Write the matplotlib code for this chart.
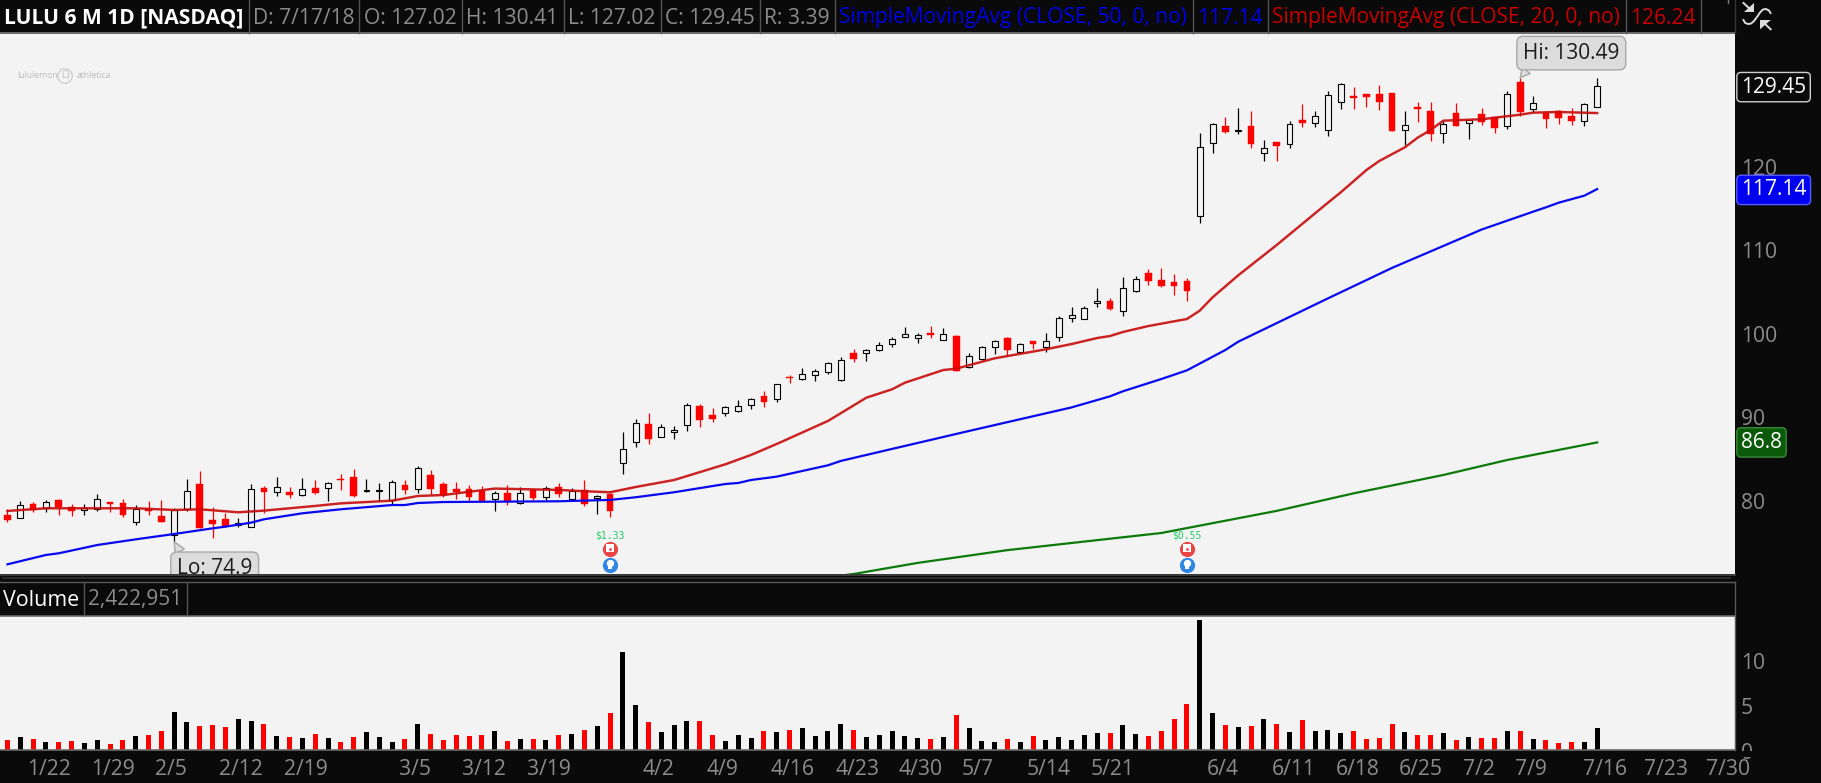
import matplotlib
matplotlib.use('Agg')
import matplotlib.pyplot as plt
import numpy as np
from matplotlib.patches import Rectangle, Polygon
from matplotlib.transforms import ScaledTranslation

plt.rcParams['font.family'] = ['Open Sans', 'DejaVu Sans']

W, H = 1821, 783
BG = '#0a0a0a'
PANEL = '#f3f3f3'
GRAY = '#8c8c8c'
UP = '#000000'
DOWN = '#ff0000'

opens = [78.11, 77.71, 79.42, 78.91, 79.86, 79.07, 78.67, 78.79, 79.66, 79.50,
         77.23, 78.79, 77.99, 75.71, 78.79, 81.82, 77.51, 77.63, 76.91, 76.63,
         81.34, 80.82, 80.86, 80.54, 81.34, 81.30, 82.42, 82.66, 81.02, 81.02,
         79.86, 81.70, 81.18, 82.90, 81.82, 81.22, 81.22, 80.99, 79.99, 80.75,
         79.51, 81.07, 80.23, 81.46, 79.99, 81.11, 80.19, 80.67, 84.30, 86.81,
         89.01, 87.41, 88.01, 88.85, 91.17, 90.09, 90.37, 90.61, 91.25, 92.36,
         91.96, 94.64, 94.36, 94.92, 95.28, 94.24, 97.47, 97.55, 97.91, 98.54,
         99.46, 99.34, 99.90, 99.02, 99.54, 95.79, 96.83, 98.19, 99.30, 97.67,
         98.94, 98.19, 99.38, 101.66, 101.54, 103.45, 103.73, 102.50, 104.97, 107.05,
         106.25, 106.01, 106.13, 113.87, 122.62, 124.69, 124.13, 124.69, 121.42, 122.78,
         122.50, 125.41, 125.01, 124.17, 127.53, 128.29, 128.53, 128.53, 128.65, 124.17,
         126.97, 126.49, 123.81, 126.21, 125.01, 126.13, 125.77, 124.65, 129.96, 126.77,
         126.21, 126.49, 125.89, 125.25, 127.02]
closes = [77.55, 79.34, 78.71, 79.70, 79.11, 78.63, 78.99, 79.98, 79.42, 78.15,
          78.79, 78.63, 77.31, 78.67, 80.94, 76.55, 77.03, 76.83, 77.19, 81.18,
          80.90, 81.42, 80.46, 81.18, 80.74, 81.90, 82.34, 80.38, 81.10, 81.10,
          82.02, 81.10, 83.70, 81.26, 80.46, 80.83, 80.31, 79.71, 80.71, 79.71,
          80.71, 80.19, 81.38, 80.67, 81.03, 79.47, 80.35, 78.63, 85.98, 89.09,
          87.25, 88.61, 88.25, 91.25, 89.53, 89.61, 91.01, 91.13, 91.96, 91.68,
          93.76, 94.52, 94.96, 95.32, 96.27, 96.63, 96.83, 97.83, 98.43, 99.14,
          99.74, 99.62, 99.70, 99.82, 95.39, 97.11, 98.22, 98.90, 97.91, 98.54,
          98.62, 98.90, 101.66, 102.02, 102.86, 103.69, 102.82, 105.25, 106.33, 106.17,
          105.57, 105.57, 104.97, 122.14, 124.89, 124.01, 124.21, 122.58, 122.02, 122.34,
          124.89, 125.09, 125.85, 128.37, 129.68, 128.09, 128.21, 127.61, 124.13, 124.77,
          126.77, 123.77, 124.89, 124.73, 125.37, 125.17, 124.49, 128.49, 126.41, 127.41,
          125.57, 125.69, 125.29, 127.29, 129.45]
highs = [78.79, 79.74, 79.66, 79.86, 80.02, 79.42, 79.42, 80.62, 79.70, 80.02,
         79.30, 79.78, 79.90, 78.95, 82.42, 83.38, 79.03, 78.39, 77.75, 81.82,
         81.58, 82.66, 81.46, 82.54, 82.30, 82.06, 83.02, 83.62, 82.42, 81.90,
         82.30, 82.30, 83.98, 83.50, 82.06, 82.06, 81.66, 81.58, 81.03, 81.66,
         81.42, 81.11, 81.54, 81.98, 81.35, 82.30, 80.47, 80.71, 88.05, 89.61,
         90.33, 89.01, 88.77, 91.49, 91.41, 90.93, 91.17, 91.88, 92.12, 92.96,
         93.80, 94.88, 95.68, 95.56, 96.43, 96.99, 97.95, 97.99, 98.79, 99.42,
         100.62, 99.86, 100.74, 100.46, 99.66, 97.47, 98.34, 99.06, 99.42, 98.66,
         98.94, 99.86, 101.90, 103.02, 103.10, 105.29, 104.09, 106.61, 106.73, 107.57,
         107.69, 106.97, 106.49, 123.85, 125.01, 125.77, 126.85, 126.49, 123.02, 122.78,
         125.25, 127.33, 126.49, 128.88, 129.80, 129.36, 128.53, 129.60, 128.65, 126.49,
         127.57, 127.57, 125.29, 127.45, 125.45, 126.85, 125.77, 128.88, 130.49, 128.29,
         126.49, 126.61, 126.85, 127.45, 130.41]
lows = [77.27, 77.71, 78.51, 78.51, 78.11, 78.03, 78.15, 78.63, 78.51, 77.87,
        76.91, 78.11, 77.31, 74.90, 78.63, 76.55, 75.39, 76.71, 76.67, 76.63,
        78.39, 80.38, 80.18, 80.42, 80.62, 79.78, 81.10, 80.26, 80.86, 79.82,
        79.30, 80.62, 80.78, 80.50, 80.30, 80.03, 79.79, 79.67, 78.63, 79.35,
        79.47, 79.91, 79.91, 80.31, 79.91, 79.19, 78.27, 77.87, 83.06, 86.30,
        86.61, 87.41, 87.25, 88.21, 88.65, 89.25, 89.97, 90.49, 90.81, 91.05,
        91.64, 93.92, 94.28, 94.16, 95.00, 94.20, 96.43, 96.59, 97.75, 98.27,
        99.42, 98.74, 99.34, 99.02, 95.35, 95.75, 96.67, 97.39, 97.15, 97.47,
        97.99, 97.63, 98.98, 101.26, 101.54, 103.06, 102.66, 101.94, 104.85, 105.65,
        105.41, 104.45, 103.73, 113.12, 121.50, 123.89, 123.73, 122.10, 120.54, 120.50,
        122.10, 124.57, 124.61, 123.50, 126.73, 126.73, 126.97, 126.61, 124.13, 122.42,
        125.17, 122.94, 122.66, 124.69, 123.14, 124.81, 123.85, 124.37, 125.89, 126.33,
        124.45, 124.93, 124.81, 124.69, 127.02]
volumes = [1.04, 1.37, 1.15, 0.81, 0.81, 0.93, 0.70, 1.04, 0.59, 1.04,
           1.48, 1.59, 2.04, 4.15, 3.04, 2.59, 2.70, 2.48, 3.37, 3.15,
           2.81, 1.48, 1.37, 1.26, 1.70, 1.26, 0.81, 1.37, 1.93, 1.37,
           0.81, 1.15, 2.81, 1.70, 1.04, 1.59, 1.48, 1.59, 2.04, 0.93,
           1.15, 1.15, 1.04, 1.59, 1.70, 2.15, 2.59, 4.04, 10.81, 4.93,
           3.04, 1.93, 2.70, 3.15, 3.15, 1.59, 0.93, 1.59, 1.26, 2.04,
           1.93, 2.15, 2.37, 1.48, 2.04, 2.81, 2.15, 1.37, 1.59, 2.04,
           1.48, 1.26, 1.15, 1.37, 3.81, 2.37, 0.93, 0.81, 1.15, 0.81,
           1.48, 1.04, 1.37, 1.04, 1.59, 1.81, 1.81, 2.70, 1.70, 1.48,
           2.04, 3.37, 5.04, 14.37, 4.04, 2.70, 2.48, 2.59, 3.37, 2.81,
           1.93, 3.26, 2.04, 2.15, 1.81, 2.04, 1.15, 1.26, 2.81, 1.93,
           1.59, 1.59, 1.81, 1.04, 1.37, 1.26, 1.26, 2.04, 2.04, 1.15,
           1.04, 0.70, 0.81, 0.81, 2.42]

sma20_idx = [0, 3, 7, 10, 13, 15, 18, 20, 24, 26, 30, 32, 34, 38, 43, 45, 47, 49, 52, 56,
             58, 60, 64, 67, 69, 70, 73, 74, 77, 81, 83, 85, 86, 87, 89, 92, 93, 94, 96, 99,
             103, 104, 106, 107, 109, 110, 111, 112, 115, 118, 119, 121, 124]
sma20 = [78.59, 78.91, 78.91, 78.91, 78.71, 78.79, 78.43, 78.63, 79.19, 79.50, 79.82, 80.38, 80.50,
         81.27, 81.11, 80.95, 80.83, 81.46, 82.30, 84.18, 85.30, 86.61, 89.37, 92.16, 93.16, 93.95,
         95.47, 95.63, 96.87, 97.95, 98.58, 99.30, 99.54, 100.02, 100.74, 101.58, 102.58, 104.17,
         106.81, 110.44, 115.51, 116.75, 119.42, 120.50, 122.14, 123.30, 124.21, 125.33, 125.50,
         126.05, 126.29, 126.37, 126.24]

sma50_idx = [0, 3, 4, 7, 10, 13, 16, 17, 19, 20, 23, 24, 26, 30, 31, 32, 34, 43, 47, 49, 52, 56,
             57, 58, 60, 64, 65, 67, 69, 75, 83, 86, 87, 90, 92, 95, 96, 103, 108, 115, 119, 120,
             121, 123, 124]
sma50 = [72.20, 73.32, 73.52, 74.51, 75.19, 75.83, 76.51, 76.71, 77.19, 77.59, 78.31, 78.47, 78.79,
         79.30, 79.30, 79.54, 79.66, 79.75, 79.91, 80.23, 80.83, 81.82, 81.94, 82.30, 82.70, 84.06,
         84.58, 85.30, 86.02, 88.17, 90.99, 92.32, 92.92, 94.39, 95.43, 97.87, 98.86, 104.05, 107.70,
         112.30, 114.43, 114.95, 115.51, 116.35, 117.14]

sma200_idx = [65, 66, 71, 78, 90, 99, 105, 112, 117, 124]
sma200 = [70.85, 71.04, 72.37, 73.90, 75.95, 78.60, 80.70, 82.90, 84.70, 86.80]

earn_idx = [47, 92]
earn_labels = ['$1.33', '$0.55']

price_ticks = [80, 90, 100, 110, 120]
vol_ticks = [0, 5, 10]
date_pos = [3.24, 8.23, 12.75, 18.2, 23.3, 31.8, 37.2, 42.2, 50.8, 55.8, 61.2, 66.3, 71.2,
            75.7, 81.2, 86.2, 94.8, 100.3, 105.3, 110.2, 114.8, 118.8, 124.6, 129.4, 134.2]
date_labels = ['1/22', '1/29', '2/5', '2/12', '2/19', '3/5', '3/12', '3/19', '4/2', '4/9',
               '4/16', '4/23', '4/30', '5/7', '5/14', '5/21', '6/4', '6/11', '6/18', '6/25',
               '7/2', '7/9', '7/16', '7/23', '7/30']

header = [('LULU 6 M 1D [NASDAQ]', 4, 'white', 'bold'),
          ('D: 7/17/18', 253, GRAY, 'normal'),
          ('O: 127.02', 364, GRAY, 'normal'),
          ('H: 130.41', 466, GRAY, 'normal'),
          ('L: 127.02', 568, GRAY, 'normal'),
          ('C: 129.45', 665, GRAY, 'normal'),
          ('R: 3.39', 764, GRAY, 'normal'),
          ('SimpleMovingAvg (CLOSE, 50, 0, no)', 839, '#0000e6', 'normal'),
          ('117.14', 1197, '#0000e6', 'normal'),
          ('SimpleMovingAvg (CLOSE, 20, 0, no)', 1272, '#c80000', 'normal'),
          ('126.24', 1630, '#c80000', 'normal')]
header_seps = [248.6, 359, 461.5, 564, 661, 759.5, 835, 1192.5, 1268, 1626, 1700.6]


def px_axes(left, top, right, bottom):
    return [left / W, 1 - bottom / H, (right - left) / W, (bottom - top) / H]


fig = plt.figure(figsize=(W / 100, H / 100), dpi=100, facecolor=BG)
ax = fig.add_axes(px_axes(0, 33, 1735, 574), facecolor=PANEL)
ax_vol = fig.add_axes(px_axes(0, 616, 1735, 749.5), facecolor=PANEL)

x = np.arange(len(opens))
opens = np.array(opens)
closes = np.array(closes)
highs = np.array(highs)
lows = np.array(lows)
is_up = closes > opens

# candles
ax.vlines(x[is_up], lows[is_up], highs[is_up], color=UP, lw=0.9, zorder=2)
ax.vlines(x[~is_up], lows[~is_up], highs[~is_up], color=DOWN, lw=0.9, zorder=2)
ax.bar(x[is_up], (closes - opens)[is_up], 0.46, bottom=opens[is_up],
       facecolor=PANEL, edgecolor=UP, lw=0.8, zorder=3)
ax.bar(x[~is_up], (opens - closes)[~is_up], 0.52, bottom=closes[~is_up],
       facecolor=DOWN, edgecolor=DOWN, lw=0.3, zorder=3)

ax.plot(sma200_idx, sma200, color='#0b7a0b', lw=1.6, zorder=4)
ax.plot(sma50_idx, sma50, color='#0808f0', lw=1.6, zorder=4)
ax.plot(sma20_idx, sma20, color='#c80a0a', lw=1.75, alpha=0.9, zorder=4)

ax.set_xlim(-0.585, 134.75)
ax.set_ylim(71.04, 135.83)
ax.set_xticks([])
ax.set_yticks(price_ticks, price_ticks)
ax.yaxis.tick_right()
ax.tick_params(axis='y', length=0, pad=4.2, labelsize=15.2, labelcolor=GRAY)
for s in ax.spines.values():
    s.set_visible(False)

# tick labels sit a little below the level they mark
nudge = ScaledTranslation(0, -1.5 / 100, fig.dpi_scale_trans)
for lab in ax.get_yticklabels():
    lab.set_transform(lab.get_transform() + nudge)

# hi / lo callouts
i_hi = int(np.argmax(highs))
i_lo = int(np.argmin(lows))
box = dict(boxstyle='round,pad=0.3,rounding_size=0.3', fc='#dcdcdc', ec='#a8a8a8', lw=1)
ax.annotate('Hi: %.2f' % highs[i_hi], xy=(i_hi, highs[i_hi]), xytext=(51, 24.5),
            textcoords='offset pixels', ha='center', va='center', fontsize=15, color='#1c1c1c',
            bbox=box, zorder=6, arrowprops=dict(arrowstyle='wedge,tail_width=0.5,shrink_factor=0.5',
                                                fc='#dcdcdc', ec='#a8a8a8', relpos=(0.09, 0), shrinkA=0, shrinkB=0))
ax.annotate('Lo: %.1f' % lows[i_lo], xy=(i_lo, lows[i_lo]), xytext=(40.5, -27),
            textcoords='offset pixels', ha='center', va='center', fontsize=15, color='#1c1c1c',
            bbox=box, zorder=6, clip_on=True, arrowprops=dict(arrowstyle='wedge,tail_width=0.5,shrink_factor=0.5',
                                                              fc='#dcdcdc', ec='#a8a8a8', relpos=(0.09, 1), shrinkA=0, shrinkB=0))

# earnings marks under the candles
for i, lab in zip(earn_idx, earn_labels):
    ax.text(i, 75.6, lab, ha='center', va='center', fontsize=7, color='#22cc66',
            family='DejaVu Sans Mono', zorder=5)
    ax.scatter([i], [74.07], s=120, color='#e84545', lw=0, zorder=5)
    ax.scatter([i], [74.15], s=30, color='white', marker='s', lw=0, zorder=6)
    ax.scatter([i], [74.0], s=4, color='#e84545', marker='o', lw=0, zorder=7)
    ax.scatter([i], [72.15], s=120, color='#2f86e6', lw=0, zorder=5)
    ax.scatter([i], [72.35], s=28, color='white', lw=0, zorder=6)
    ax.scatter([i], [71.85], s=9, color='white', marker='s', lw=0, zorder=6)

# right hand value badges
tr = ax.get_yaxis_transform()
ax.text(1.00346, closes[-1] - 0.1, '%.2f' % closes[-1], transform=tr, va='center', ha='left', fontsize=15, color='white',
        bbox=dict(boxstyle='round,pad=0.2,rounding_size=0.2', fc=BG, ec='#d0d0d0', lw=1), zorder=8)
ax.text(1.00346, sma50[-1] - 0.1, '%.2f' % sma50[-1], transform=tr, va='center', ha='left', fontsize=15, color='white',
        bbox=dict(boxstyle='round,pad=0.2,rounding_size=0.2', fc='#0000f0', ec='#5a5aff', lw=1), zorder=8)
ax.text(1.00346, sma200[-1], '%.1f' % sma200[-1], transform=tr, va='center', ha='left', fontsize=15, color='white',
        bbox=dict(boxstyle='round,pad=0.2,rounding_size=0.2', fc='#0a5a0a', ec='#3c8a3c', lw=1), zorder=8)

# volume panel
vol_colors = [UP if u else DOWN for u in is_up]
ax_vol.bar(x, volumes, 0.39, color=vol_colors, lw=0)
ax_vol.set_xlim(-0.585, 134.75)
ax_vol.set_ylim(0, 14.83)
ax_vol.set_xticks(date_pos, date_labels)
ax_vol.set_yticks(vol_ticks, vol_ticks)
ax_vol.yaxis.tick_right()
ax_vol.tick_params(axis='y', length=0, pad=4.2, labelsize=15.2, labelcolor=GRAY)
ax_vol.tick_params(axis='x', length=0, pad=7, labelsize=15.2, labelcolor=GRAY)
for s in ax_vol.spines.values():
    s.set_visible(False)
for lab in ax_vol.get_yticklabels():
    lab.set_transform(lab.get_transform() + nudge)

# window chrome in pixel coordinates
ui = fig.add_axes([0, 0, 1, 1], zorder=10)
ui.set_xlim(0, W)
ui.set_ylim(H, 0)
ui.axis('off')
ui.add_patch(Rectangle((1736, 750.5), 85, 6, fc=BG, ec='none'))
ui.plot([0, 1735], [33, 33], color='#6a6a6a', lw=1.4)
for sx in header_seps:
    ui.plot([sx, sx], [0, 33], color='#555555', lw=1)
for txt, tx, col, weight in header:
    ui.text(tx, 18, txt, color=col, fontweight=weight, fontsize=15.1, ha='left', va='center')

ui.plot([0, 1735], [574.5, 574.5], color='#3c3c3c', lw=1.4)
ui.plot([3, 1730], [578, 578], color='#2c2c2c', lw=1.4)
ui.plot([0, 1735], [582, 582], color='#5a5a5a', lw=1)
ui.plot([0, 1735], [615.5, 615.5], color='#6a6a6a', lw=1.2)
ui.plot([0, 1735], [750, 750], color='#6a6a6a', lw=1.2)
ui.plot([1735, 1735], [582, 750], color='#5a5a5a', lw=1)
ui.plot([1735, 1735], [0, 33], color='#333333', lw=1)
ui.plot([84, 84], [582, 615], color='#555555', lw=1)
ui.plot([187.4, 187.4], [582, 615], color='#555555', lw=1)
ui.plot([1727.5, 1727.5], [0, 3], color='#777777', lw=1)
ui.text(3, 600, 'Volume', color='white', fontsize=15.4, ha='left', va='center')
ui.text(88, 600, '2,422,951', color=GRAY, fontsize=15, ha='left', va='center')

# lululemon watermark
ui.text(17, 76, 'lululemon', color='#bdbdbd', fontsize=6.2, ha='left', va='center')
ui.text(77, 76, 'athletica', color='#bdbdbd', fontsize=6.2, ha='left', va='center')
ui.scatter([65], [76], s=110, facecolor='none', edgecolor='#cccccc', lw=0.9)
ui.text(65, 76, '\u03a9', color='#bdbdbd', fontsize=7, ha='center', va='center')

# expand icon, top right
ui.add_patch(Polygon([(1743.5, 11.7), (1754, 11.7), (1754, 3.3)], fc='#dddddd', ec='none'))
ui.add_patch(Polygon([(1760, 20), (1770.7, 20), (1760, 29.3)], fc='#dddddd', ec='none'))
ui.plot([1743.5, 1750], [3, 9], color='#dddddd', lw=1.4)
ui.plot([1764, 1770.7], [23, 29.3], color='#dddddd', lw=1.4)
ui.plot([1743.5, 1745, 1748, 1751, 1754, 1757, 1760, 1763, 1766, 1769, 1770.5],
        [20, 22.8, 24, 23.6, 21, 17, 12.5, 9.5, 9, 10.5, 13], color='#dddddd', lw=1.4)

plt.savefig('out.png', dpi=100, facecolor=BG)
